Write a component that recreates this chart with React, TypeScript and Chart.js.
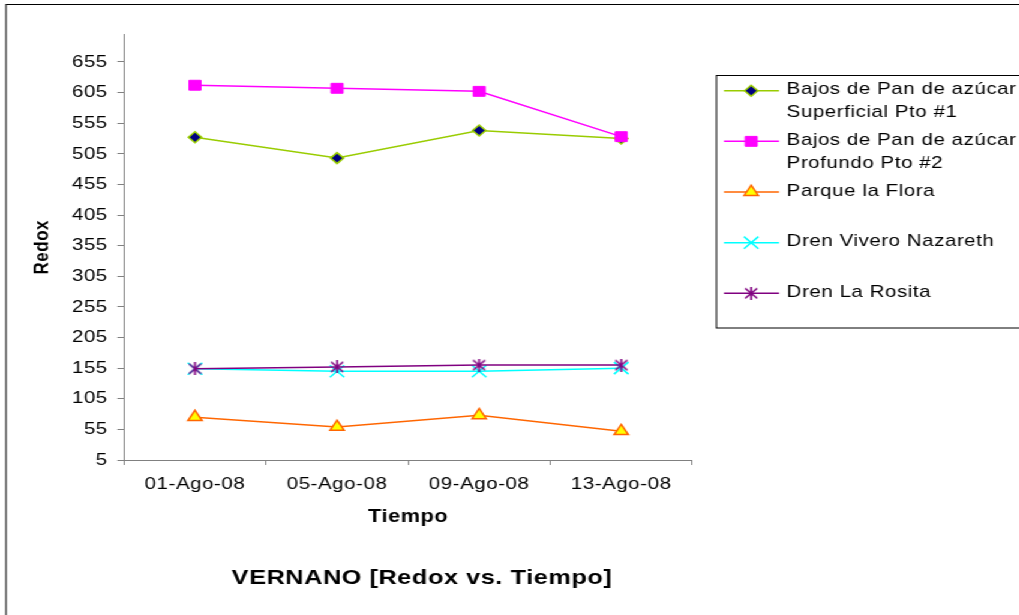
import React, { useEffect, useRef } from 'react';
import { Chart, registerables } from 'chart.js';
import { drawPoint } from 'chart.js/helpers';

Chart.register(...registerables);

// ---- data ----
const categories = ['01-Ago-08', '05-Ago-08', '09-Ago-08', '13-Ago-08'];
const superficialPto1 = [532, 498, 543, 530];
const profundoPto2 = [617, 612, 607, 533];
const parqueLaFlora = [75, 59, 78, 52];
const drenViveroNazareth = [154, 150, 150, 155];
const drenLaRosita = [154, 157, 160, 160];
const yTicks = [5, 55, 105, 155, 205, 255, 305, 355, 405, 455, 505, 555, 605, 655];
const yMin = 5;
const yMax = 700;
const seriesNames = [
  ['Bajos de Pan de azúcar', 'Superficial Pto #1'],
  ['Bajos de Pan de azúcar', 'Profundo Pto #2'],
  ['Parque la Flora'],
  ['Dren Vivero Nazareth'],
  ['Dren La Rosita'],
];
const xTitle = 'Tiempo';
const yTitle = 'Redox';
const chartTitle = 'VERNANO [Redox vs. Tiempo]';

// ---- layout (unscaled canvas coordinates; the canvas is stretched horizontally) ----
const SX = 1.2;
const W = 849;
const H = 615;
const FONT = '"Liberation Sans", Arial, Helvetica, sans-serif';
const SPACING = '0.5px';

function makeStar(color: string) {
  const c = document.createElement('canvas');
  c.width = 12;
  c.height = 13;
  const g = c.getContext('2d')!;
  g.strokeStyle = color;
  g.lineWidth = 1.6;
  g.beginPath();
  g.moveTo(1, 1.5);
  g.lineTo(11, 11.5);
  g.moveTo(11, 1.5);
  g.lineTo(1, 11.5);
  g.moveTo(6, 0);
  g.lineTo(6, 13);
  g.stroke();
  return c;
}

const spacingPlugin = {
  id: 'spacing',
  beforeUpdate(chart: any) {
    chart.ctx.letterSpacing = SPACING;
  },
  beforeDraw(chart: any) {
    const ctx = chart.ctx;
    ctx.letterSpacing = SPACING;
    ctx.save();
    ctx.strokeStyle = '#000';
    ctx.lineWidth = 1;
    ctx.strokeRect(5, 4.5, 1000, 1000);
    ctx.restore();
  },
};

const titlePlugin = {
  id: 'bottomTitle',
  afterDraw(chart: any) {
    const ctx = chart.ctx;
    ctx.save();
    ctx.letterSpacing = SPACING;
    ctx.fillStyle = '#000';
    ctx.font = `bold 21px ${FONT}`;
    ctx.textAlign = 'center';
    ctx.textBaseline = 'middle';
    ctx.fillText(chartTitle, 351.7, 578);
    ctx.restore();
  },
};

const legendPlugin = {
  id: 'boxLegend',
  afterDraw(chart: any) {
    const ctx = chart.ctx;
    ctx.save();
    ctx.letterSpacing = SPACING;
    ctx.strokeStyle = '#000';
    ctx.lineWidth = 1;
    ctx.strokeRect(597, 75.5, 300, 252.5);
    chart.data.datasets.forEach((ds: any, i: number) => {
      const y = 90.7 + i * 50.65;
      ctx.strokeStyle = ds.borderColor;
      ctx.lineWidth = ds.borderWidth;
      ctx.beginPath();
      ctx.moveTo(603.3, y);
      ctx.lineTo(649.2, y);
      ctx.stroke();
      ctx.fillStyle = ds.pointBackgroundColor;
      ctx.strokeStyle = ds.pointBorderColor;
      ctx.lineWidth = ds.pointBorderWidth;
      drawPoint(ctx, { pointStyle: ds.pointStyle, radius: ds.pointRadius, rotation: 0, borderWidth: ds.pointBorderWidth } as any, 626, y);
      ctx.fillStyle = '#000';
      ctx.font = `17px ${FONT}`;
      ctx.textBaseline = 'middle';
      ctx.textAlign = 'left';
      seriesNames[i].forEach((line, j) => ctx.fillText(line, 655.6, y - 1 + j * 22.5));
    });
    ctx.restore();
  },
};

export default function App() {
  const ref = useRef<HTMLCanvasElement>(null);
  useEffect(() => {
    Chart.defaults.font.family = FONT;
    Chart.defaults.font.size = 17;
    Chart.defaults.color = '#000';
    const star = makeStar('#800080');
    const base = { borderWidth: 1.5, pointBorderWidth: 1.5, tension: 0, fill: false };
    const chart = new Chart(ref.current!, {
      type: 'line',
      data: {
        labels: categories,
        datasets: [
          { ...base, order: 5, label: seriesNames[0].join(' '), data: superficialPto1, borderColor: '#99CC00', pointStyle: 'rectRot', pointRadius: 5.5, pointBackgroundColor: '#000080', pointBorderColor: '#99CC00' },
          { ...base, order: 4, label: seriesNames[1].join(' '), data: profundoPto2, borderColor: '#FF00FF', pointStyle: 'rect', pointRadius: 7, pointBackgroundColor: '#FF00FF', pointBorderColor: '#FF00FF', pointBorderWidth: 1 },
          { ...base, order: 3, label: seriesNames[2].join(' '), data: parqueLaFlora, borderColor: '#FF6600', pointStyle: 'triangle', pointRadius: 6.8, pointBackgroundColor: '#FFFF00', pointBorderColor: '#FF6600' },
          { ...base, order: 2, label: seriesNames[3].join(' '), data: drenViveroNazareth, borderColor: '#00FFFF', pointStyle: 'crossRot', pointRadius: 8.5, pointBackgroundColor: '#00FFFF', pointBorderColor: '#00FFFF' },
          { ...base, order: 1, label: seriesNames[4].join(' '), data: drenLaRosita, borderColor: '#800080', pointStyle: star as any, pointRadius: 6, pointBackgroundColor: '#800080', pointBorderColor: '#800080' },
        ] as any,
      },
      options: {
        responsive: false,
        animation: false,
        devicePixelRatio: 1,
        events: [],
        layout: { padding: { left: 25, right: 272.1, top: 34.4, bottom: 49.6 } },
        plugins: {
          legend: { display: false },
          tooltip: { enabled: false },
          title: { display: false },
        },
        scales: {
          x: {
            type: 'category',
            offset: true,
            grid: { offset: true, drawOnChartArea: false, drawTicks: true, tickLength: 5, color: '#808080' },
            border: { display: true, color: '#808080', width: 1 },
            ticks: { color: '#000', font: { size: 17 }, padding: 9.5, maxRotation: 0, autoSkip: false },
            title: { display: true, text: xTitle, color: '#000', font: { size: 18, weight: 'bold' }, padding: { top: 0, bottom: 37.6 } },
            afterFit: (s: any) => { s.height = 105.4; },
          },
          y: {
            min: yMin,
            max: yMax,
            afterBuildTicks: (s: any) => { s.ticks = yTicks.map((v) => ({ value: v })); },
            grid: { drawOnChartArea: false, drawTicks: true, tickLength: 5.5, color: '#808080' },
            border: { display: true, color: '#808080', width: 1 },
            ticks: { color: '#000', font: { size: 17 }, padding: 8 },
            title: { display: true, text: yTitle, color: '#000', font: { size: 17, weight: 'bold' }, padding: { top: 0, bottom: 0 } },
            afterFit: (s: any) => { s.width = 78.3; },
          },
        },
      } as any,
      plugins: [spacingPlugin, titlePlugin, legendPlugin],
    });
    return () => chart.destroy();
  }, []);
  return (
    <div
      style={{
        position: 'absolute',
        left: 0,
        top: 0,
        width: W,
        height: H,
        transform: `scaleX(${SX})`,
        transformOrigin: '0 0',
        background: '#fff',
      }}
    >
      <canvas ref={ref} width={W} height={H} style={{ display: 'block', width: W, height: H }} />
    </div>
  );
}
